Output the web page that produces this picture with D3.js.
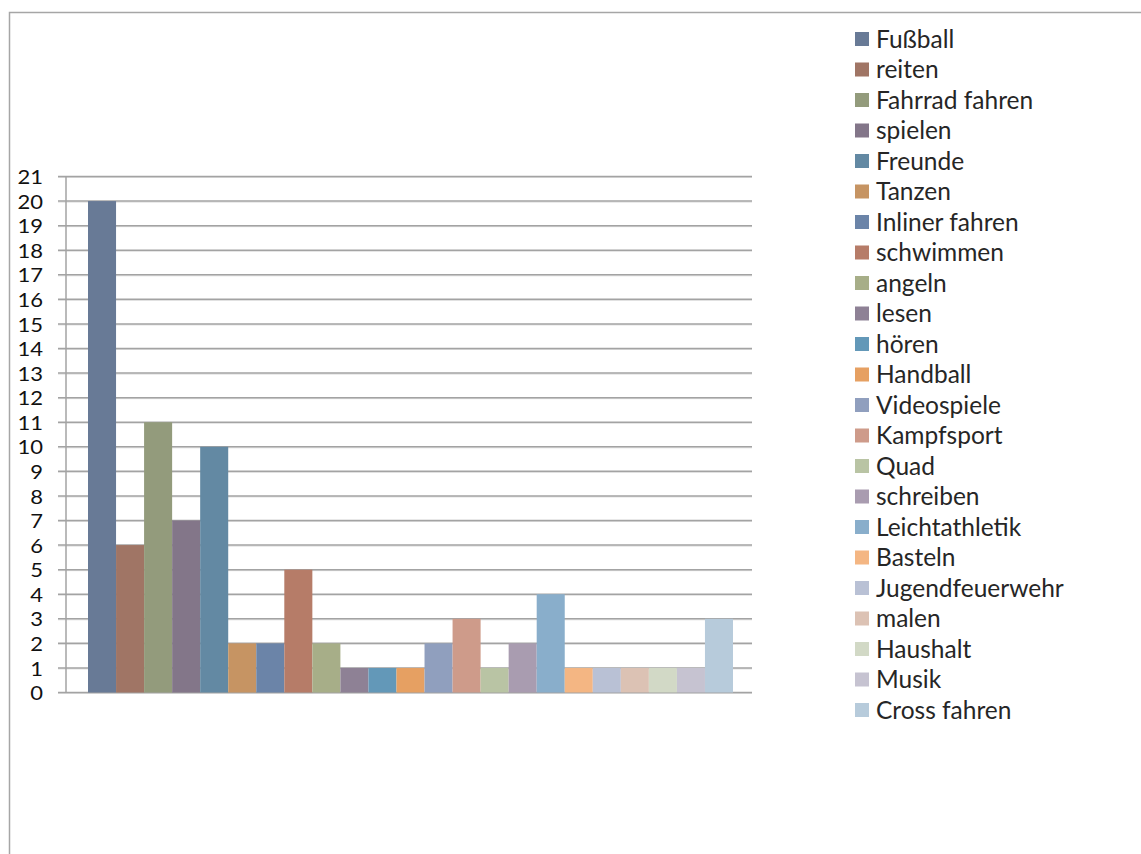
<!DOCTYPE html>
<html><head><meta charset="utf-8">
<script src="https://cdn.jsdelivr.net/npm/d3@7"></script>
<style>body{margin:0;background:#fff;} svg{display:block;}</style>
</head><body>
<svg id="c" width="1141" height="854"></svg>
<script>
const categories = ["Fußball","reiten","Fahrrad fahren","spielen","Freunde","Tanzen","Inliner fahren","schwimmen","angeln","lesen","hören","Handball","Videospiele","Kampfsport","Quad","schreiben","Leichtathletik","Basteln","Jugendfeuerwehr","malen","Haushalt","Musik","Cross fahren"];
const values = [20,6,11,7,10,2,2,5,2,1,1,1,2,3,1,2,4,1,1,1,1,1,3];
const colors = ["#687a96","#a07565","#939b7c","#837689","#6389a3","#c69463","#6b84a8","#b67c68","#a7ae88","#8e8195","#6398b8","#e6a062","#909fbe","#ce9b8a","#b9c4a4","#a99cb0","#89aecb","#f4b683","#b9c1d5","#dcc2b4","#d2d9c6","#c6c3d1","#b7cbdb"];
const yTicks = d3.range(0,22);

const svg = d3.select("#c");
const font = "Lato, 'Open Sans', sans-serif";
// chart border
svg.append("path").attr("d","M9.5,854 L9.5,12.5 L1141,12.5").attr("fill","none").attr("stroke","#a6a6a6").attr("stroke-width",1.5);

const plot = {left:66, right:752, top:176.5, bottom:692.5};
const y = d3.scaleLinear().domain([0,21]).range([plot.bottom, plot.top]);
const x = d3.scaleBand().domain(categories).range([plot.left+22, plot.right-19]).padding(0);

// gridlines
const grid = svg.append("g");
yTicks.forEach(t=>{
  grid.append("line").attr("x1",58).attr("x2",plot.right).attr("y1",y(t)+1).attr("y2",y(t)+1).attr("stroke","#dcdcdc").attr("stroke-width",1);
  grid.append("line").attr("x1",58).attr("x2",plot.right).attr("y1",y(t)).attr("y2",y(t)).attr("stroke","#a3a3a3").attr("stroke-width",1.5);
});
// y axis line
svg.append("line").attr("x1",plot.left).attr("x2",plot.left).attr("y1",plot.top).attr("y2",plot.bottom).attr("stroke","#a3a3a3").attr("stroke-width",1.5);

// bars
svg.append("g").selectAll("rect").data(categories).join("rect")
  .attr("x",d=>x(d)).attr("width",x.bandwidth())
  .attr("y",(d,i)=>y(values[i])).attr("height",(d,i)=>y(0)-y(values[i]))
  .attr("fill",(d,i)=>colors[i]);

// y axis labels
const yAxis = d3.axisLeft(y).tickValues(yTicks).tickSize(0).tickPadding(0);
const ga = svg.append("g").attr("transform",`translate(43,0)`).call(yAxis);
ga.select(".domain").remove();
ga.selectAll("text").attr("font-family",font).attr("font-size",20).attr("fill","#111").attr("dy","0.36em")
  .attr("transform","scale(1.12,1)").attr("x",0);
ga.selectAll(".tick text").attr("transform","translate(0,0) scale(1.1,1)");

// legend
const lg = svg.append("g");
categories.forEach((c,i)=>{
  const yy = 39 + i*30.5;
  lg.append("rect").attr("x",855).attr("y",yy-7).attr("width",14).attr("height",14).attr("fill",colors[i]);
  lg.append("text").attr("x",876).attr("y",yy).attr("dy","0.36em").attr("font-family",font).attr("font-size",24.5).attr("fill","#262626").text(c);
});
</script>
</body></html>
